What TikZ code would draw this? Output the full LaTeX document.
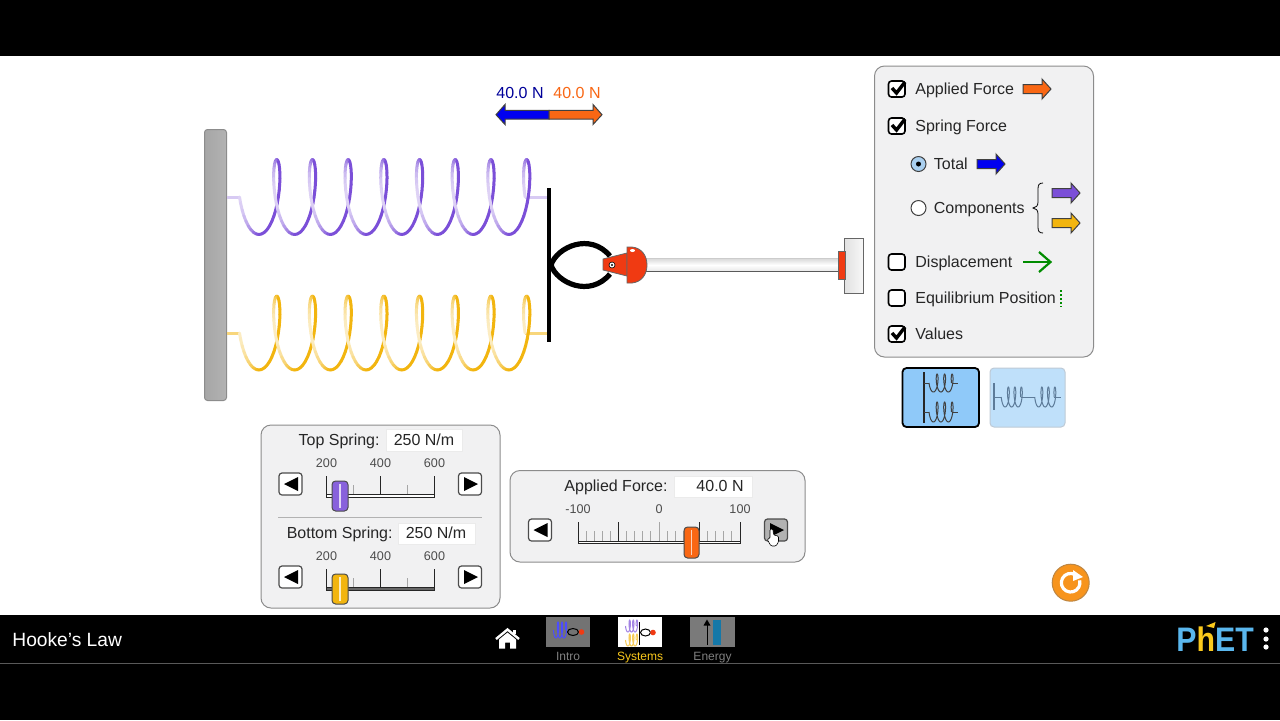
\documentclass[tikz,border=0pt]{standalone}
\usepackage{fontspec}
\setmainfont{Liberation Sans}
\usepackage{tikz}

\definecolor{coilpurple}{HTML}{7B4FD8}
\definecolor{coilyellow}{HTML}{F2B50F}
\definecolor{forceorange}{HTML}{F96714}
\definecolor{forceblue}{HTML}{0000F0}
\definecolor{hookred}{HTML}{F03A12}
\definecolor{panelgray}{HTML}{F1F1F2}
\definecolor{resetorange}{HTML}{F7941D}
\definecolor{phetblue}{HTML}{5AB7EE}
\definecolor{phetyellow}{HTML}{FBC91C}
\definecolor{selblue}{HTML}{8FC9F9}
\definecolor{unselblue}{HTML}{BFE0FA}
\definecolor{iconblue}{HTML}{5D7B99}
\definecolor{radioblue}{HTML}{A9CFEF}

\tikzset{
    lbl/.style={inner sep=0pt, text height=5.7pt, text depth=0pt, font=\fontsize{8}{10}\selectfont, text=black!85},
    ticklbl/.style={inner sep=0pt, text height=4.5pt, text depth=0pt, font=\fontsize{6.3}{8}\selectfont, text=black!70},
    tablbl/.style={inner sep=0pt, text height=4.3pt, text depth=0pt, font=\fontsize{6}{8}\selectfont},
    panel/.style={draw=black!45, fill=panelgray, line width=0.5pt, rounded corners=5pt},
    valuebox/.style={fill=white, draw=black!8, line width=0.5pt},
    chkbox/.style={draw=black, fill=white, line width=0.8pt, rounded corners=1.5pt},
    arrowbtn/.style={draw=black!70, fill=white, line width=0.6pt, rounded corners=1.5pt},
    thumb/.style={draw=black!70, line width=0.5pt, rounded corners=1.8pt},
    major/.style={draw=black!85, line width=0.5pt},
    minor/.style={draw=black!35, line width=0.5pt}
}

% y centre, amplitude, colour
\newcommand{\coil}[3]{
    \foreach \ang in {0,10,...,2870} {
        \pgfmathsetmacro{\angn}{\ang+10}
        \pgfmathsetmacro{\mixv}{100-75*max(0,cos(\ang+5))}
        \path[draw, line width=1.5pt, line cap=round, color=#3!\mixv!white]
            ({250-10.5*cos(\ang)+0.09917*\ang},{#1+#2*sin(\ang)}) -- ({250-10.5*cos(\angn)+0.09917*\angn},{#1+#2*sin(\angn)});
    }
}
% x, y, pitch, width, amplitude, end angle, colour
\newcommand{\smallcoil}[7]{
    \path[draw, color=#7, line width=0.5pt] plot[domain=0:#6, samples=80, smooth] ({#1-#4*cos(\x)+#3/360*\x},{#2+#5*sin(\x)});
}
% x, y, colour
\newcommand{\forcearrow}[3]{
    \path[draw=black!75, fill=#3, line width=0.5pt] (#1,#2-4.5) -- (#1+19,#2-4.5) -- (#1+19,#2-10) -- (#1+28,#2) -- (#1+19,#2+10) -- (#1+19,#2+4.5) -- (#1,#2+4.5) -- cycle;
}
% x, y of a button
\newcommand{\leftbtn}[2]{
    \path[arrowbtn] (#1,#2) rectangle ++(23,22);
    \path[fill=black] (#1+5,#2+11) -- ++(14,-7) -- ++(0,14) -- cycle;
}
\newcommand{\rightbtn}[2]{
    \path[arrowbtn] (#1,#2) rectangle ++(23,22);
    \path[fill=black] (#1+19.5,#2+11) -- ++(-14,-7) -- ++(0,14) -- cycle;
}
% name, top of the slider row, thumb colour, track colour
\newcommand{\springslider}[4]{
    \foreach \v/\vx in {200/326.5,400/380.5,600/434.5}
        \node[ticklbl] (tick\v#1) at (\vx,#2-13) {\v};
    \foreach \vx in {326.5,380.5,434.5}
        \path[major] (\vx,#2) -- (\vx,#2+19);
    \foreach \vx in {353.5,407.5}
        \path[minor] (\vx,#2+9) -- (\vx,#2+19);
    \path[draw=black!85, fill=#4, line width=0.5pt] (326.5,#2+18.5) rectangle (434.5,#2+21);
    \path[thumb, fill=#3] (332,#2+5) rectangle (348,#2+35);
    \path[draw=white!75!#3, line width=0.7pt] (340,#2+8) -- (340,#2+32);
    \leftbtn{279}{#2-3}
    \rightbtn{458.5}{#2-3}
}

\begin{document}
\begin{tikzpicture}[x=0.5pt,y=-0.5pt]

    \useasboundingbox (0,0) rectangle (1280,720);

    \path[fill=white] (0,0) rectangle (1280,720);
    \path[fill=black] (0,0) rectangle (1280,56);
    \path[fill=black] (0,615) rectangle (1280,720);
    \path[draw=black!65, line width=0.5pt] (0,663) -- (1280,663);

    % wall and springs
    \path[draw=black!45, left color=black!35, right color=black!30, line width=0.5pt, rounded corners=1.5pt] (204.5,129.5) rectangle (226.5,400.5);

    \path[draw=coilpurple!30!white, line width=1.5pt] (226.5,197) -- (239.5,197);
    \path[draw=coilpurple!30!white, line width=1.5pt] (525,197) -- (548,197);
    \path[draw=coilyellow!55!white, line width=1.5pt] (226.5,333) -- (239.5,333);
    \path[draw=coilyellow!55!white, line width=1.5pt] (525,333) -- (548,333);
    \coil{197}{37.5}{coilpurple}
    \coil{333}{37}{coilyellow}

    \path[fill=black] (547.2,188) rectangle (551,342);

    % hook and rod
    \path[draw, line width=2.6pt] (551,265) .. controls (557,247) and (590,232) .. (610,256);
    \path[draw, line width=2.6pt] (551,265) .. controls (557,283) and (590,298) .. (610,274);

    \path[top color=black!15, bottom color=black!10, middle color=white] (646,258.3) rectangle (838,271.7);
    \path[draw=black!20, line width=0.5pt] (646,258.3) -- (838,258.3);
    \path[draw=black!65, line width=0.5pt] (646,271.7) -- (838,271.7);
    \path[draw=black!60, left color=black!12, right color=black!3, line width=0.5pt] (844,238) rectangle (863,293);
    \path[draw=black!60, fill=hookred, line width=0.4pt] (838,251) rectangle (845,279);

    \path[draw=black!60, fill=hookred, line width=0.4pt] (603,259) -- (627,253) -- (627,276) -- (603,270) -- cycle;
    \path[draw=black!60, fill=hookred, line width=0.4pt] (627,247) -- (632,247) .. controls (642,248) and (647,256) .. (647,265) .. controls (647,274) and (642,282) .. (632,283) -- (627,283) -- cycle;
    \path[fill=white] (632.5,250.5) ellipse (2.5 and 1.5);
    \path[draw=black, fill=white, line width=0.3pt] (612,265) circle (3);
    \path[fill=black] (612,265) circle (1.2);

    % force values
    \node[lbl, text=blue!60!black] (totalval) at (520,93) {40.0 N};
    \node[lbl, text=forceorange] (appliedval) at (577,93) {40.0 N};
    \path[draw=black!75, fill=forceblue, line width=0.5pt] (549,110.3) -- (505,110.3) -- (505,104.5) -- (496,114.7) -- (505,124.5) -- (505,119) -- (549,119) -- cycle;
    \path[draw=black!75, fill=forceorange, line width=0.5pt] (549,110.3) -- (593,110.3) -- (593,104.5) -- (602,114.7) -- (593,124.5) -- (593,119) -- (549,119) -- cycle;

    % visibility panel
    \path[panel] (874.5,66) rectangle (1093.5,357);

    \foreach \y in {89,126,334} {
        \path[chkbox] (888.5,\y-8) rectangle (905,\y+8);
        \path[draw=black, line width=1.7pt] (892,\y-1) -- (896.5,\y+4) -- (905,\y-7);
    }
    \foreach \y in {262,298}
        \path[chkbox] (888.5,\y-8) rectangle (905,\y+8);

    \node[lbl, anchor=west] (applied) at (915,89) {Applied Force};
    \node[lbl, anchor=west] (spring) at (915,126) {Spring Force};
    \node[lbl, anchor=west] (total) at (933.5,164) {Total};
    \node[lbl, anchor=west] (components) at (933.5,208) {Components};
    \node[lbl, anchor=west] (displacement) at (915,262) {Displacement};
    \node[lbl, anchor=west] (equilibrium) at (915,298) {Equilibrium Position};
    \node[lbl, anchor=west] (values) at (915,334) {Values};

    \path[draw=black!75, fill=radioblue, line width=0.5pt] (918.5,164) circle (7.5);
    \path[fill=black] (918.5,164) circle (2.5);
    \path[draw=black!75, fill=white, line width=0.5pt] (918.5,208) circle (7.5);

    \forcearrow{1023}{89}{forceorange}
    \forcearrow{977}{164}{forceblue}
    \forcearrow{1052}{193}{coilpurple}
    \forcearrow{1052}{223}{coilyellow}

    \path[draw=black, line width=0.4pt] (1043,183) .. controls (1039,183) and (1038,185) .. (1038,189) -- (1038,202) .. controls (1038,206) and (1036,207.5) .. (1033,208) .. controls (1036,208.5) and (1038,210) .. (1038,214) -- (1038,227) .. controls (1038,231) and (1039,233) .. (1043,233);

    \path[draw=green!55!black, line width=1.1pt] (1023,262) -- (1050,262);
    \path[draw=green!55!black, line width=1.1pt] (1039,252) -- (1050.5,262) -- (1039,272);
    \path[draw=green!55!black, line width=0.8pt, dash pattern=on 1pt off 1pt] (1061,290) -- (1061,307);

    % system buttons
    \path[draw=black, fill=selblue, line width=0.9pt, rounded corners=2pt] (902.5,368) rectangle (979,427);
    \path[draw=iconblue!40!white, fill=unselblue, line width=0.5pt, rounded corners=2pt] (990,368) rectangle (1065,427);

    \path[draw=black!85, line width=0.7pt] (924,372) -- (924,423);
    \smallcoil{931.5}{383}{7.5}{2.5}{9}{1080}{black!75}
    \path[draw=black!75, line width=0.5pt] (924,383) -- (929,383) (951.5,383) -- (958,383);
    \smallcoil{931.5}{412}{7.5}{2.5}{10}{1080}{black!75}
    \path[draw=black!75, line width=0.5pt] (924,412) -- (929,412) (951.5,412) -- (958,412);

    \path[draw=iconblue, line width=0.7pt] (994,383) -- (994,410);
    \smallcoil{1003.5}{397}{6.5}{2.3}{10}{1080}{iconblue}
    \smallcoil{1037}{397}{6.5}{2.3}{10}{1080}{iconblue}
    \path[draw=iconblue, line width=0.5pt] (994,397) -- (1001.2,397) (1020.7,397) -- (1034.7,397) (1054.2,397) -- (1061,397);

    % spring constant sliders
    \path[panel] (261,425) rectangle (500,608);

    \node[lbl, anchor=east] (toplbl) at (380,440) {Top Spring:};
    \path[valuebox] (386,429.5) rectangle (462,451);
    \node[lbl] (topval) at (424,440) {250 N/m};
    \springslider{top}{476}{coilpurple!90!white}{white}

    \path[draw=black!30, line width=0.5pt] (278,517) -- (482,517);

    \node[lbl, anchor=east] (bottomlbl) at (393,533) {Bottom Spring:};
    \path[valuebox] (398,523) rectangle (475,544);
    \node[lbl] (bottomval) at (436,533) {250 N/m};
    \springslider{bottom}{569}{coilyellow}{black!60}

    % applied force slider
    \path[panel] (510,470.5) rectangle (805,562);

    \node[lbl, anchor=east] (forcelbl) at (668,486) {Applied Force:};
    \path[valuebox] (674,476) rectangle (752,497);
    \node[lbl, anchor=east] (forceval) at (744,486) {40.0 N};

    \foreach \v/\vx in {-100/578,0/659,100/740}
        \node[ticklbl] (force\v) at (\vx,509) {\v};
    \foreach \i in {0,...,20}
        \path[minor] ({578+8.1*\i},531) -- ({578+8.1*\i},541);
    \foreach \vx in {578,618.5,699.5,740}
        \path[major] (\vx,522) -- (\vx,541);
    \path[minor] (659,522) -- (659,541);
    \path[draw=black!85, fill=white, line width=0.5pt] (578,541) rectangle (740,543.5);
    \path[thumb, fill=forceorange] (684,527) rectangle (699,558);
    \path[draw=white!70!forceorange, line width=0.5pt] (691.5,530) -- (691.5,555);
    \leftbtn{528.5}{519}
    \path[arrowbtn, fill=black!30] (764.5,519) rectangle ++(23,22);
    \path[fill=black] (784,530) -- ++(-14,-7) -- ++(0,14) -- cycle;

    % hand cursor
    \path[draw=black, fill=white, line width=0.3pt, rounded corners=0.6pt] (770,529) -- (773,529) -- (773.5,535) -- (778.5,536) -- (778.5,542) -- (776,546) -- (771,546) -- (767,539) -- (770,538.5) -- cycle;

    % reset button
    \path[draw=black!30!resetorange!80, fill=resetorange, line width=0.5pt] (1070.7,582.7) circle (18.5);
    \path[draw=white, line width=1.6pt] (1075,574.5) arc[start angle=-62, end angle=-375, radius=9.3];
    \path[fill=white] (1073,570) -- (1083,577) -- (1073,581) -- cycle;

    % navigation bar
    \node[inner sep=0pt, text height=6.9pt, text depth=0pt, anchor=west, text=white, font=\fontsize{9.6}{12}\selectfont] (title) at (12,639.5) {Hooke's Law};

    \path[draw=white, line width=1.2pt, line join=miter] (496,639) -- (507.5,629.5) -- (519,639);
    \path[fill=white] (499,639.5) -- (507.5,632.5) -- (516,639.5) -- (516,648.5) -- (510,648.5) -- (510,642.5) -- (505,642.5) -- (505,648.5) -- (499,648.5) -- cycle;
    \path[fill=white] (513,629.5) rectangle (516,634);

    \path[fill=black!55] (546,617) rectangle (590,647);
    \smallcoil{555}{630}{4}{1.6}{8}{1080}{blue!70!white}
    \path[draw=black, line width=0.5pt] (573,632) ellipse (5.5 and 3.5);
    \path[fill=hookred] (581.5,632) circle (2.8);
    \node[tablbl, text=black!50!white] (intro) at (568,656) {Intro};

    \path[fill=white] (618,617) rectangle (662,647);
    \smallcoil{627}{626}{3.6}{1.5}{6}{1080}{coilpurple!70!white}
    \smallcoil{627}{640}{3.6}{1.5}{6}{1080}{coilyellow!70!white}
    \path[draw=black, line width=0.5pt] (639.5,622) -- (639.5,645);
    \path[draw=black, line width=0.5pt] (645.5,632.5) ellipse (5 and 3.5);
    \path[fill=hookred] (653,632.5) circle (2.8);
    \node[tablbl, text=phetyellow] (systems) at (640,656) {Systems};

    \path[fill=black!52] (690,617) rectangle (735,647);
    \path[fill={rgb,255:red,21;green,120;blue,168}] (713,620) rectangle (721,645);
    \path[draw=black, line width=0.5pt] (707,645) -- (707,624);
    \path[fill=black] (707,619.5) -- (710.5,625.5) -- (703.5,625.5) -- cycle;
    \node[tablbl, text=black!50!white] (energy) at (712.5,656) {Energy};

    % logo
    \node[inner sep=0pt, anchor=west, text height=12pt, text depth=0pt, font=\fontsize{17}{20}\bfseries\selectfont] (phet) at (1176,639) {\scalebox{0.89}[1]{\textcolor{phetblue}{P}\textcolor{phetyellow}{h}\textcolor{phetblue}{ET}}};
    \path[fill=phetyellow] (1206,626) -- (1215.5,622) -- (1214,628) -- cycle;
    \foreach \y in {630,639,647}
        \path[fill=white] (1266,\y) circle (2.6);

\end{tikzpicture}
\end{document}
